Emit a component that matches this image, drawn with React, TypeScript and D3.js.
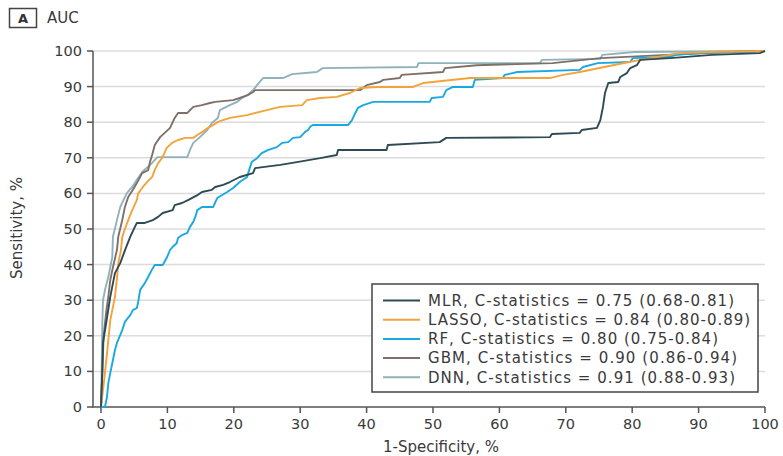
import React from "react";
import * as d3 from "d3";

const xTicks = [0, 10, 20, 30, 40, 50, 60, 70, 80, 90, 100];
const yTicks = [0, 10, 20, 30, 40, 50, 60, 70, 80, 90, 100];

const mlr: [number, number][] = [[0,0],[0.2,10],[0.3,18],[0.9,25],[1.4,31],[2.1,37.6],[2.9,40.4],[3.6,44],[4.4,47.8],[5.1,50.6],[5.4,51.7],[6.6,51.7],[7.8,52.5],[8.6,53.4],[9.3,54.5],[10.8,55.3],[11.1,56.7],[12.2,57.3],[13.1,58.1],[14.6,59.6],[15.2,60.4],[16.7,61],[17.2,61.8],[18.4,62.4],[19.4,63.2],[20.9,64.6],[22.9,65.7],[23.2,67.1],[27,68],[29.5,68.8],[33,69.9],[35.5,70.8],[35.7,72.2],[43,72.2],[43.2,73.6],[51,74.4],[52,75.6],[67.6,75.8],[67.9,76.7],[72.1,77],[72.4,77.8],[74.7,78.4],[75.2,80.6],[75.6,84.3],[75.9,88.2],[76.4,91],[77.9,91.3],[78.2,92.7],[79.2,93.8],[79.7,95.2],[80.7,96],[81.2,97.5],[85.7,98],[92,98.9],[99.2,99.4],[100,100]];

const lasso: [number, number][] = [[0,0],[0.5,8],[0.9,15],[1.4,24.4],[1.7,27.2],[2.1,30.9],[2.4,36],[2.6,40.4],[3.0,44],[3.2,47.8],[3.6,50],[4.1,52.5],[4.7,55.3],[5.4,58.1],[5.6,60],[6.3,61.8],[7.1,63.5],[7.7,64.6],[8.1,66.6],[8.6,68.5],[9.2,69.9],[9.9,72.8],[10.7,74.2],[11.6,75],[12.7,75.6],[13.9,75.6],[14.5,76.4],[15.2,77.2],[16.1,78.4],[16.9,79.2],[17.6,80.1],[19.4,81.2],[22,82],[23.9,82.9],[27,84.3],[30.3,84.8],[31,86.2],[33,86.8],[35.5,87.1],[37.5,88.2],[39,89.6],[41.6,89.9],[47,89.9],[48.5,91],[55.6,92.4],[67.6,92.4],[69.6,93.3],[72.1,94.1],[77.1,96],[81.2,97.5],[87.2,99.4],[93,99.8],[100,100]];

const rf: [number, number][] = [[0,0],[0.6,0],[0.9,2.8],[1.1,6.7],[1.4,9.6],[1.8,13.2],[2.1,16],[2.4,18],[3.2,21.6],[3.6,23.9],[4.4,25.8],[4.8,27.2],[5.4,27.8],[5.6,29.5],[5.9,32.9],[6.6,34.8],[7.1,36.5],[7.8,39],[8.1,39.9],[9.3,39.9],[9.9,41.9],[10.4,44.1],[10.8,45],[11.4,46],[11.6,47.5],[12.2,48.3],[13,48.9],[13.4,50.6],[13.9,52],[14.2,53.4],[14.5,55.3],[15.2,56.2],[16.9,56.2],[17.5,58.7],[19,60.4],[19.9,61.5],[20.9,63.2],[22,64.6],[22.4,67.1],[22.7,68.8],[23.5,69.9],[24.2,71.3],[25.2,72.2],[26.5,73],[27.3,74.2],[28.2,74.4],[28.9,75.6],[30,75.8],[30.7,77.2],[31.2,77.8],[31.5,78.7],[31.9,79.2],[37.2,79.2],[37.8,80.6],[38.3,82.6],[38.7,84],[39.5,84.8],[41,85.7],[49.5,85.7],[49.8,86.8],[51.5,87.1],[52,89],[53,89.9],[56,89.9],[56.3,91.9],[60.5,92.4],[60.8,93.3],[62.7,94.1],[72.1,94.7],[72.6,95.5],[74.8,96.6],[79.7,96.9],[80.1,98],[85.4,98.3],[86.7,98.9],[91,99.5],[100,100]];

const gbm: [number, number][] = [[0,0],[0.2,10],[0.4,20],[0.8,27],[1.1,30.9],[1.4,35.7],[1.8,39.3],[2.4,44.1],[2.6,47.8],[3.2,52.5],[3.6,56.2],[4.1,59],[4.8,61],[5.4,62.9],[6.2,65.7],[7.1,66.5],[7.4,69],[7.7,70.8],[8.1,73.6],[8.9,75.8],[9.6,77],[10.4,78.4],[11.1,81.2],[11.6,82.6],[13,82.6],[13.9,84.3],[15.2,84.8],[16.4,85.4],[17.2,85.7],[19.9,86.2],[20.9,86.8],[22.1,87.6],[22.9,88.5],[23.2,89],[39,89],[40,90.4],[42,91.3],[42.5,91.9],[45,92.4],[45.3,93.3],[51.5,94.1],[51.8,95.2],[56.6,96],[68,96.6],[75.2,98],[85.2,98.9],[92,99.5],[100,100]];

const dnn: [number, number][] = [[0,0],[0.1,10],[0.2,23.6],[0.3,30],[0.6,32.9],[1.1,36.5],[1.7,42.1],[1.8,47.8],[2.4,52.5],[2.9,56.2],[3.9,60.1],[4.7,61.8],[5.4,63.8],[6.2,66],[7.4,68],[7.8,68.8],[8.5,70.2],[13,70.2],[13.4,72.2],[13.9,74.2],[14.9,75.8],[16,77.8],[16.7,79.8],[17.6,81.2],[17.9,83.4],[19.4,84.8],[20.5,85.7],[21.2,86.8],[22,87.6],[22.9,89],[23.5,90.4],[24.4,92.4],[27.4,92.4],[28.8,93.5],[32.5,94.1],[33.4,95.2],[47.6,95.5],[47.8,96.6],[66.1,96.6],[66.4,97.5],[75.2,97.8],[75.5,98.9],[80.4,99.7],[100,100]];

const seriesNames = ["MLR", "LASSO", "RF", "GBM", "DNN"];
const seriesLabels = [
  "MLR, C-statistics = 0.75 (0.68-0.81)",
  "LASSO, C-statistics = 0.84 (0.80-0.89)",
  "RF, C-statistics = 0.80 (0.75-0.84)",
  "GBM, C-statistics = 0.90 (0.86-0.94)",
  "DNN, C-statistics = 0.91 (0.88-0.93)",
];
const seriesColors = ["#2d4a55", "#f4a23a", "#1aa8e2", "#7e7068", "#8fb2bc"];
const seriesData = [mlr, lasso, rf, gbm, dnn];

const FONT = "'DejaVu Sans', 'Open Sans', sans-serif";
const TEXT = "#3a3a3a";

export default function App() {
  const x = d3.scaleLinear().domain([0, 100]).range([101, 765]);
  const y = d3.scaleLinear().domain([0, 100]).range([407, 51]);
  const line = d3
    .line<[number, number]>()
    .x((d) => x(d[0]))
    .y((d) => y(d[1]))
    .curve(d3.curveLinear);
  const axisLeft = 93;
  const drawOrder = [4, 3, 2, 1, 0];
  const legX = 372, legY = 284, legW = 386, legH = 108, rowH = 19.2;
  const legTextWidths = [306, 322, 290, 309, 307];

  return (
    <svg
      width={783}
      height={456}
      style={{ position: "absolute", left: 0, top: 0, background: "#fff" }}
      fontFamily={FONT}
    >
      <rect x={0} y={0} width={783} height={456} fill="#fff" />
      {/* panel label */}
      <rect x={9.5} y={8.5} width={27} height={19} fill="none" stroke="#444" strokeWidth={1.5} />
      <text x={23} y={23} textAnchor="middle" fontSize={13} fontWeight={700} fill="#333">A</text>
      <text x={47} y={23} fontSize={15} fill={TEXT}>AUC</text>

      {/* gridlines */}
      {yTicks.filter((t) => t > 0).map((t) => (
        <line key={"g" + t} x1={axisLeft} x2={765} y1={y(t)} y2={y(t)} stroke="#dcdcdc" strokeWidth={1.5} />
      ))}

      {/* axes */}
      <line x1={axisLeft} x2={axisLeft} y1={y(100)} y2={y(0)} stroke="#555" strokeWidth={1.5} />
      <line x1={axisLeft - 1} x2={765} y1={y(0)} y2={y(0)} stroke="#555" strokeWidth={1.5} />
      {yTicks.map((t) => (
        <g key={"yt" + t}>
          <line x1={axisLeft - 6} x2={axisLeft} y1={y(t)} y2={y(t)} stroke="#555" strokeWidth={1.5} />
          <text x={82} y={y(t)} dy="0.35em" textAnchor="end" fontSize={14.5} fill={TEXT}>{t}</text>
        </g>
      ))}
      {xTicks.map((t) => (
        <g key={"xt" + t}>
          <line x1={x(t)} x2={x(t)} y1={y(0)} y2={y(0) + 6} stroke="#555" strokeWidth={1.5} />
          <text x={x(t)} y={429} textAnchor="middle" fontSize={14.5} fill={TEXT}>{t}</text>
        </g>
      ))}
      <text x={441} y={452} textAnchor="middle" fontSize={15} fill={TEXT}>1-Specificity, %</text>
      <text
        transform={`translate(22,228) rotate(-90)`}
        textAnchor="middle"
        fontSize={15}
        fill={TEXT}
      >
        Sensitivity, %
      </text>

      {/* curves */}
      {drawOrder.map((i) => (
        <path
          key={seriesNames[i]}
          d={line(seriesData[i]) || ""}
          fill="none"
          stroke={seriesColors[i]}
          strokeWidth={1.9}
          strokeLinejoin="round"
        />
      ))}

      {/* legend */}
      <rect x={legX} y={legY} width={legW} height={legH} fill="#fff" stroke="#444" strokeWidth={1.5} />
      {seriesLabels.map((lab, i) => (
        <g key={lab}>
          <line
            x1={383}
            x2={420}
            y1={legY + 16.5 + i * rowH}
            y2={legY + 16.5 + i * rowH}
            stroke={seriesColors[i]}
            strokeWidth={2}
          />
          <text
            x={428}
            y={legY + 16.5 + i * rowH}
            dy="0.35em"
            fontSize={15}
            fill={TEXT}
            textLength={legTextWidths[i]}
            lengthAdjust="spacing"
          >
            {lab}
          </text>
        </g>
      ))}
    </svg>
  );
}
